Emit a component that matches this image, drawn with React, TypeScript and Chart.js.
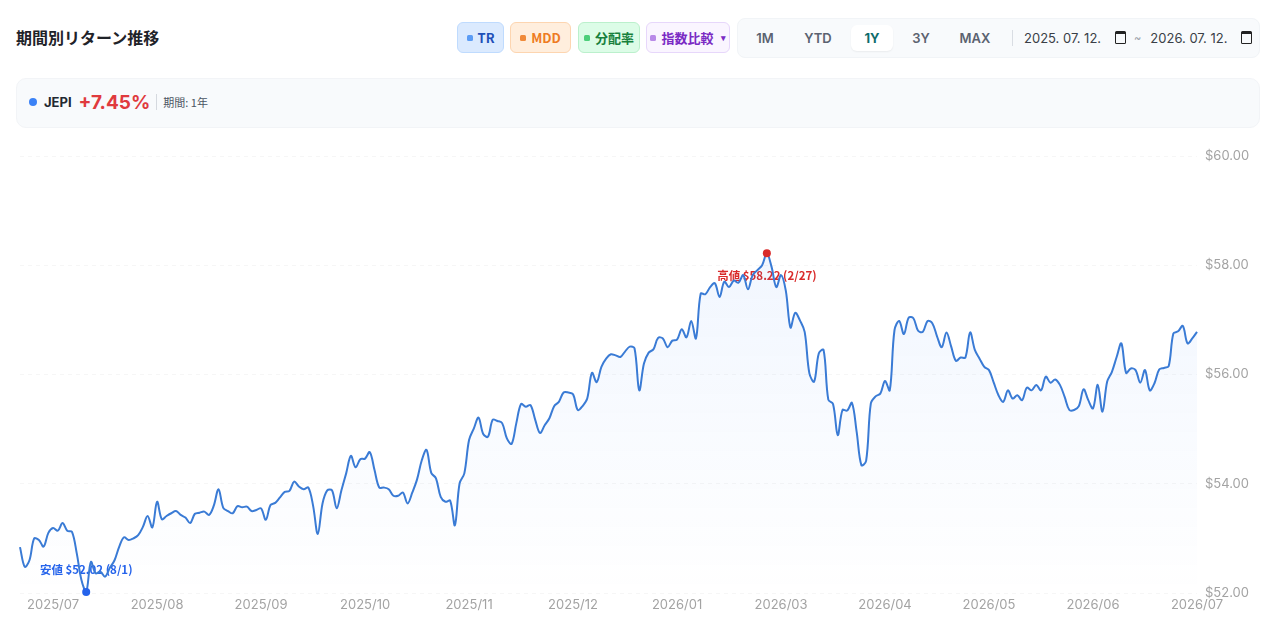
import React, { useEffect, useRef } from "react";
import { Chart, registerables } from "chart.js";

Chart.register(...registerables);

// ---------- data ----------
const TICKER = "JEPI";
const RETURN_TEXT = "+7.45%";
const PERIOD_TEXT = "期間: 1年";
const TITLE = "期間別リターン推移";
const RANGE_START_TEXT = "2025. 07. 12.";
const RANGE_END_TEXT = "2026. 07. 12.";
const PERIOD_BUTTONS = ["1M", "YTD", "1Y", "3Y", "MAX"];
const ACTIVE_PERIOD = "1Y";

const FIRST_TRADING_DAY = "2025-07-14";
const LAST_TRADING_DAY = "2026-07-10";
const MARKET_HOLIDAYS = [
  "2025-09-01", "2025-11-27", "2025-12-25", "2026-01-01", "2026-01-19",
  "2026-02-16", "2026-04-03", "2026-05-25", "2026-06-19", "2026-07-03",
];

const PRICES: number[] = [
  52.84, 52.48, 52.6, 53.0, 52.97, 52.85, 53.1, 53.19, 53.14, 53.28,
  53.14, 53.12, 52.73, 52.24, 52.02, 52.57, 52.36, 52.39, 52.3, 52.46,
  52.6, 52.85, 53.02, 52.97, 53.0, 53.06, 53.21, 53.41, 53.2, 53.67,
  53.35, 53.41, 53.46, 53.5, 53.43, 53.38, 53.28, 53.45, 53.47, 53.49,
  53.43, 53.6, 53.9, 53.56, 53.5, 53.46, 53.59, 53.57, 53.58, 53.5,
  53.52, 53.55, 53.34, 53.61, 53.65, 53.75, 53.85, 53.87, 54.04, 53.95,
  53.9, 53.93, 53.6, 53.08, 53.64, 53.88, 53.88, 53.55, 53.88, 54.19,
  54.51, 54.3, 54.45, 54.46, 54.58, 54.25, 53.93, 53.93, 53.9, 53.78,
  53.78, 53.84, 53.64, 53.84, 54.08, 54.43, 54.62, 54.2, 54.1, 53.76,
  53.67, 53.69, 53.24, 54.01, 54.19, 54.8, 55.01, 55.21, 54.91, 54.86,
  55.17, 55.15, 55.11, 54.83, 54.73, 55.11, 55.46, 55.41, 55.44, 55.17,
  54.93, 55.07, 55.2, 55.42, 55.5, 55.67, 55.67, 55.64, 55.35, 55.42,
  55.56, 56.03, 55.86, 56.14, 56.29, 56.37, 56.35, 56.32, 56.42, 56.51,
  56.48, 55.71, 56.2, 56.4, 56.46, 56.67, 56.66, 56.5, 56.62, 56.64,
  56.83, 56.68, 56.98, 56.66, 57.48, 57.47, 57.6, 57.67, 57.42, 57.7,
  57.6, 57.72, 57.68, 57.82, 57.56, 57.82, 57.91, 58.0, 58.22, 57.97,
  57.6, 57.82, 57.54, 56.86, 57.13, 56.99, 56.78, 56.02, 55.87, 56.39,
  56.45, 55.54, 55.46, 54.89, 55.35, 55.34, 55.48, 54.95, 54.34, 54.42,
  55.47, 55.6, 55.65, 55.88, 55.71, 56.81, 56.98, 56.74, 57.04, 57.03,
  56.8, 56.78, 56.98, 56.94, 56.7, 56.5, 56.77, 56.51, 56.25, 56.31,
  56.31, 56.77, 56.45, 56.29, 56.14, 56.08, 55.85, 55.62, 55.5, 55.71,
  55.56, 55.62, 55.53, 55.76, 55.71, 55.81, 55.71, 55.96, 55.85, 55.91,
  55.81, 55.59, 55.35, 55.35, 55.42, 55.73, 55.53, 55.38, 55.81, 55.32,
  55.87, 56.05, 56.32, 56.57, 56.03, 56.11, 56.08, 55.85, 56.08, 55.71,
  55.84, 56.09, 56.12, 56.15, 56.75, 56.79, 56.89, 56.57, 56.66, 56.78,
];

const Y_MIN = 52;
const Y_MAX = 60;
const Y_STEP = 2;
const X_LABEL_EVERY = 22;

// ---------- helpers ----------
function tradingDays(): string[] {
  const out: string[] = [];
  const d = new Date(FIRST_TRADING_DAY + "T00:00:00Z");
  const end = new Date(LAST_TRADING_DAY + "T00:00:00Z");
  while (d.getTime() <= end.getTime()) {
    const dow = d.getUTCDay();
    const iso = d.toISOString().slice(0, 10);
    if (dow !== 0 && dow !== 6 && !MARKET_HOLIDAYS.includes(iso)) out.push(iso);
    d.setUTCDate(d.getUTCDate() + 1);
  }
  return out;
}

const DATES = tradingDays();
const N = PRICES.length;

let minIdx = 0;
let maxIdx = 0;
PRICES.forEach((v, i) => {
  if (v < PRICES[minIdx]) minIdx = i;
  if (v > PRICES[maxIdx]) maxIdx = i;
});
const md = (iso: string) => {
  if (!iso) return "";
  const [, m, d] = iso.split("-");
  return `${parseInt(m, 10)}/${parseInt(d, 10)}`;
};
const LOW_LABEL = `安値 $${PRICES[minIdx].toFixed(2)} (${md(DATES[minIdx])})`;
const HIGH_LABEL = `高値 $${PRICES[maxIdx].toFixed(2)} (${md(DATES[maxIdx])})`;

const LATIN = "Inter, 'Noto Sans CJK JP', sans-serif";
const JP = "'Noto Sans CJK JP', Inter, sans-serif";

const LINE = "#3a7bd5";
const LOW_COLOR = "#2563eb";
const HIGH_COLOR = "#d92b2b";

const extremaPlugin = {
  id: "extremaLabels",
  beforeDatasetsDraw(chart: any) {
    const { ctx, scales } = chart;
    const x = scales.x;
    const y = scales.y;
    ctx.save();
    ctx.font = `bold 11.5px ${JP}`;
    ctx.textAlign = "center";
    ctx.textBaseline = "middle";
    ctx.fillStyle = LOW_COLOR;
    ctx.fillText(LOW_LABEL, x.getPixelForValue(minIdx), y.getPixelForValue(PRICES[minIdx]) - 22);
    ctx.fillStyle = HIGH_COLOR;
    ctx.fillText(HIGH_LABEL, x.getPixelForValue(maxIdx), y.getPixelForValue(PRICES[maxIdx]) + 22);
    ctx.restore();
  },
};

function CalendarIcon() {
  return (
    <span
      style={{
        display: "inline-block",
        width: 9,
        height: 9,
        border: "1.5px solid #222",
        borderTopWidth: 3,
        borderRadius: 1.5,
        marginLeft: 14,
        verticalAlign: "middle",
        position: "relative",
        top: -1,
      }}
    />
  );
}

function ToggleButton(props: {
  left: number; width: number; label: string; bg: string; border: string; color: string; marker: string; caret?: boolean;
}) {
  return (
    <div
      style={{
        position: "absolute",
        left: props.left,
        top: 22,
        width: props.width,
        height: 31,
        boxSizing: "border-box",
        background: props.bg,
        border: `1px solid ${props.border}`,
        borderRadius: 6,
        display: "flex",
        alignItems: "center",
        justifyContent: "center",
        color: props.color,
        fontWeight: 700,
        fontSize: 13,
        fontFamily: JP,
        gap: 5,
      }}
    >
      <span style={{ width: 6, height: 6, borderRadius: 1.5, background: props.marker, display: "inline-block" }} />
      <span>{props.label}</span>
      {props.caret ? <span style={{ fontSize: 9, marginLeft: 2 }}>▾</span> : null}
    </div>
  );
}

export default function App() {
  const canvasRef = useRef<HTMLCanvasElement | null>(null);

  useEffect(() => {
    document.body.style.margin = "0";
    const canvas = canvasRef.current;
    if (!canvas) return;
    const chart = new Chart(canvas, {
      type: "line",
      data: {
        labels: DATES,
        datasets: [
          {
            data: PRICES,
            borderColor: LINE,
            borderWidth: 2,
            tension: 0.35,
            clip: false,
            fill: "start",
            backgroundColor: (c: any) => {
              const area = c.chart.chartArea;
              if (!area) return "rgba(59,130,246,0.05)";
              const g = c.chart.ctx.createLinearGradient(0, area.top, 0, area.bottom);
              g.addColorStop(0, "rgba(59,130,246,0.09)");
              g.addColorStop(1, "rgba(59,130,246,0.0)");
              return g;
            },
            pointRadius: (c: any) => (c.dataIndex === minIdx || c.dataIndex === maxIdx ? 4 : 0),
            pointHoverRadius: 0,
            pointBorderWidth: 0,
            pointBackgroundColor: (c: any) => (c.dataIndex === minIdx ? LOW_COLOR : HIGH_COLOR),
            pointBorderColor: "rgba(0,0,0,0)",
          },
        ],
      },
      options: {
        animation: false,
        responsive: false,
        maintainAspectRatio: false,
        layout: { padding: { left: 20, right: 20, top: 20, bottom: 0 } },
        plugins: { legend: { display: false }, tooltip: { enabled: false } },
        scales: {
          x: {
            type: "category",
            grid: { display: false, drawTicks: false },
            border: { display: false },
            ticks: {
              autoSkip: false,
              maxRotation: 0,
              minRotation: 0,
              padding: 4,
              color: "#a3a3a3",
              font: { size: 13, family: LATIN },
              callback: function (this: any, value: any, index: number) {
                if ((N - 1 - index) % X_LABEL_EVERY !== 0) return "";
                const iso = DATES[index] || "";
                return iso.slice(0, 7).replace("-", "/");
              },
            },
            afterFit: (s: any) => {
              s.height = 24;
            },
          },
          y: {
            position: "right",
            min: Y_MIN,
            max: Y_MAX,
            grid: { color: "rgba(0,0,0,0.035)", drawTicks: false },
            border: { display: false, dash: [4, 4] },
            ticks: {
              stepSize: Y_STEP,
              padding: 8,
              color: "#a3a3a3",
              font: { size: 13, family: LATIN },
              callback: (v: any) => "$" + Number(v).toFixed(2),
            },
            afterFit: (s: any) => {
              s.width = 63;
            },
          },
        },
      },
      plugins: [extremaPlugin],
    } as any);
    return () => chart.destroy();
  }, []);

  return (
    <div
      style={{
        position: "relative",
        width: 1280,
        height: 642,
        background: "#ffffff",
        overflow: "hidden",
        fontFamily: LATIN,
      }}
    >
      {/* title */}
      <div
        style={{
          position: "absolute",
          left: 16,
          top: 26,
          fontSize: 16,
          lineHeight: "22px",
          fontWeight: 700,
          color: "#1f2329",
          fontFamily: JP,
        }}
      >
        {TITLE}
      </div>

      {/* toggle buttons */}
      <ToggleButton left={457} width={47} label="TR" bg="#dbeafe" border="#bfdbfe" color="#1e4fb8" marker="#5b9cf5" />
      <ToggleButton left={510} width={61} label="MDD" bg="#ffeedd" border="#fdd5b0" color="#ee7b22" marker="#f08a3a" />
      <ToggleButton left={578} width={62} label="分配率" bg="#dcfce7" border="#bbf0cc" color="#17803d" marker="#4ccf7a" />
      <ToggleButton left={646} width={84} label="指数比較" bg="#faf5ff" border="#e7d7fb" color="#7a2bc4" marker="#b98ae8" caret />

      {/* period selector */}
      <div
        style={{
          position: "absolute",
          left: 737,
          top: 18,
          width: 523,
          height: 40,
          background: "#f8fafc",
          border: "1px solid #f1f4f7",
          boxSizing: "border-box",
          borderRadius: 8,
        }}
      />
      {PERIOD_BUTTONS.map((p, i) => {
        const centers = [765, 818, 872, 921, 975];
        const active = p === ACTIVE_PERIOD;
        return (
          <div
            key={p}
            style={{
              position: "absolute",
              left: centers[i] - 21,
              top: 25,
              width: 42,
              height: 26,
              display: "flex",
              alignItems: "center",
              justifyContent: "center",
              fontSize: 13,
              fontWeight: active ? 700 : 600,
              color: active ? "#0f6b6b" : "#5b6270",
              background: active ? "#ffffff" : "transparent",
              borderRadius: 6,
              boxShadow: active ? "0 1px 2px rgba(0,0,0,0.06)" : "none",
            }}
          >
            {p}
          </div>
        );
      })}
      <div style={{ position: "absolute", left: 1012, top: 30, width: 1, height: 16, background: "#d9dde3" }} />
      <div
        style={{
          position: "absolute",
          left: 1024,
          top: 28,
          height: 20,
          display: "flex",
          alignItems: "center",
          fontSize: 13,
          color: "#3a3f47",
          whiteSpace: "nowrap",
        }}
      >
        <span>{RANGE_START_TEXT}</span>
        <CalendarIcon />
        <span style={{ color: "#9aa0a8", fontSize: 11, margin: "0 9px 0 8px" }}>~</span>
        <span>{RANGE_END_TEXT}</span>
        <CalendarIcon />
      </div>

      {/* summary bar */}
      <div
        style={{
          position: "absolute",
          left: 16,
          top: 78,
          width: 1244,
          height: 50,
          boxSizing: "border-box",
          background: "#f8fafc",
          border: "1px solid #f2f4f7",
          borderRadius: 10,
        }}
      />
      <div
        style={{
          position: "absolute",
          left: 29,
          top: 90,
          height: 24,
          display: "flex",
          alignItems: "center",
          whiteSpace: "nowrap",
        }}
      >
        <span style={{ width: 8, height: 8, borderRadius: 4, background: "#3b82f6", display: "inline-block" }} />
        <span style={{ marginLeft: 7, fontSize: 13, fontWeight: 700, color: "#222831" }}>{TICKER}</span>
        <span style={{ marginLeft: 7, fontSize: 19, fontWeight: 700, color: "#e03a3e" }}>{RETURN_TEXT}</span>
        <span style={{ marginLeft: 6, width: 1, height: 16, background: "#d5d9df", display: "inline-block" }} />
        <span style={{ marginLeft: 6, fontSize: 11, color: "#4b5563", fontFamily: JP }}>{PERIOD_TEXT}</span>
      </div>

      {/* chart */}
      <canvas
        ref={canvasRef}
        width={1280}
        height={481}
        style={{ position: "absolute", left: 0, top: 136, width: 1280, height: 481 }}
      />
    </div>
  );
}
